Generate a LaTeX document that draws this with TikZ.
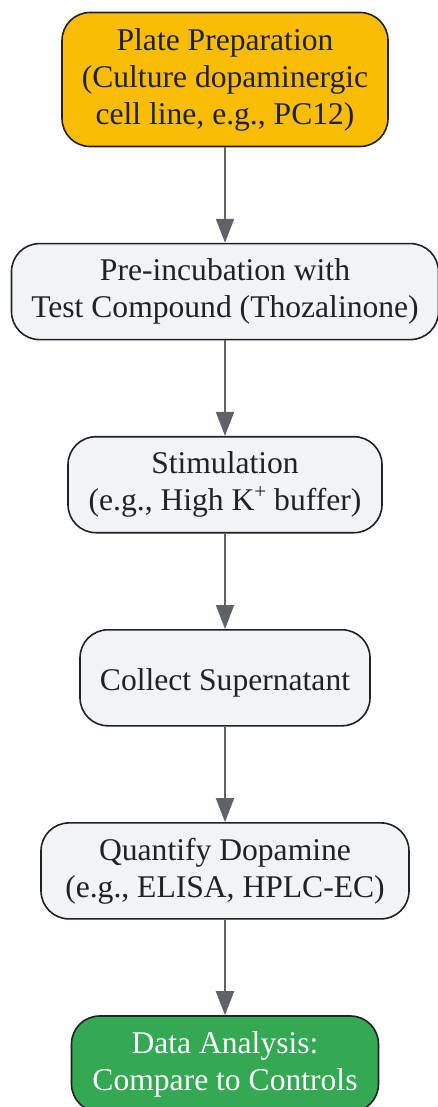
\documentclass[tikz,border=0pt]{standalone}
\usepackage{fontspec}
\setmainfont{Liberation Serif}
\usetikzlibrary{positioning}
\usetikzlibrary{arrows.meta}
\definecolor{prepyellow}{HTML}{FBBC05}
\definecolor{stepgray}{HTML}{F1F3F4}
\definecolor{resultgreen}{HTML}{34A853}
\definecolor{linkgray}{HTML}{5F6368}
\definecolor{edgedark}{HTML}{202124}
\newcommand*{\ionplus}{\raisebox{0.38em}{\fontsize{21}{21}\selectfont+}}
\tikzset{%
  stage/.style={draw=edgedark, line width=1.6pt, rectangle, rounded corners=28pt,
    align=center, inner sep=0pt, minimum height=96pt, text=edgedark,
    font=\fontsize{31.6}{37}\selectfont,
    execute at begin node={\rule{0pt}{32pt}}},% one step of the assay
  startstage/.style={stage, fill=prepyellow, minimum height=134pt},% first step
  midstage/.style={stage, fill=stepgray},% intermediate steps
  endstage/.style={stage, fill=resultgreen, text=white},% final analysis
  link/.style={draw=linkgray, line width=2pt, -{Triangle[length=24pt, width=18pt]}}% arrows between steps
}
\begin{document}
\begin{tikzpicture}[x=1pt, y=1pt, node distance=95.5pt]
  \useasboundingbox (0,0) rectangle (438,-1107);
  % The six steps, top to bottom:
  \node[startstage, minimum width=326pt] (plate) at (225,-79.5)
    {Plate Preparation\\(Culture dopaminergic\\cell line, e.g., PC12)};
  \node[midstage, minimum width=427pt, below=of plate] (preinc)
    {Pre-incubation with\\Test Compound (Thozalinone)};
  \node[midstage, minimum width=314pt, below=of preinc] (stim)
    {Stimulation\\(e.g., High K\ionplus{} buffer)};
  \node[midstage, minimum width=290pt, below=of stim] (collect)
    {Collect Supernatant};
  \node[midstage, minimum width=368pt, below=of collect] (quant)
    {Quantify Dopamine\\(e.g., ELISA, HPLC-EC)};
  \node[endstage, minimum width=307pt, below=of quant] (analysis)
    {Data Analysis:\\Compare to Controls};
  % Connect the steps:
  \foreach \a/\b in {plate/preinc, preinc/stim, stim/collect, collect/quant, quant/analysis}
    \draw[link] (\a) -- (\b);
\end{tikzpicture}
\end{document}
